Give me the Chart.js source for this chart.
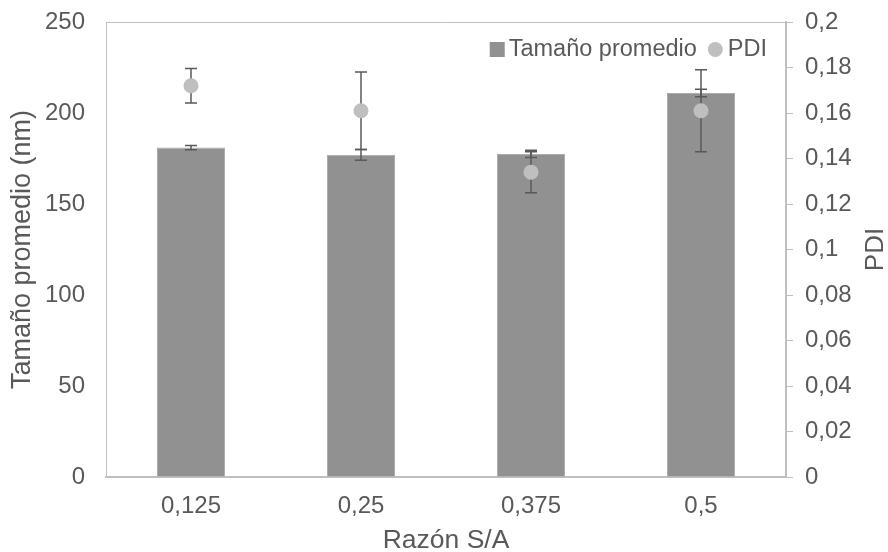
<!DOCTYPE html>
<html lang="es">
<head>
  <meta charset="UTF-8" />
  <title>Tamaño promedio y PDI</title>
  <script src="https://cdn.jsdelivr.net/npm/chart.js@4"></script>
  <style>
    body { margin: 0; background: #fff; }
    #wrap { width: 888px; height: 552px; position: relative; }
  </style>
</head>
<body>
  <div id="wrap"><canvas id="chart"></canvas></div>

  <script>
    const categories = ['0,125', '0,25', '0,375', '0,5'];
    const tamano = [181, 177, 177.5, 211];
    const tamanoErr = [1.2, 3, 2, 2.1];
    const pdi = [0.172, 0.161, 0.134, 0.161];
    const pdiErr = [0.0076, 0.017, 0.009, 0.018];
    const sizeTicks = [0, 50, 100, 150, 200, 250];
    const pdiTicks = [0, 0.02, 0.04, 0.06, 0.08, 0.1, 0.12, 0.14, 0.16, 0.18, 0.2];

    const FONT = '"Liberation Sans", Arial, sans-serif';
    const TEXT = '#595959';
    const LINE = '#bfbfbf';
    Chart.defaults.font.family = FONT;
    Chart.defaults.color = TEXT;

    // fixed axis sizes so the plot box lands where the original one is
    const fixWidth = w => s => {
      s.width = w;
      s.paddingTop = 0;
      s.paddingBottom = 0;
    };

    // error bars go over the bars but under the PDI dots
    const errorBars = {
      id: 'errorBars',
      afterDatasetDraw(chart, args) {
        if (args.index !== 0) return;
        const { ctx, scales } = chart;
        const cap = 6;
        ctx.save();
        ctx.strokeStyle = TEXT;
        ctx.lineWidth = 1.5;
        const draw = (vals, errs, scale) => vals.forEach((v, i) => {
          const x = scales.x.getPixelForValue(i);
          const top = scale.getPixelForValue(v + errs[i]);
          const bot = scale.getPixelForValue(v - errs[i]);
          ctx.beginPath();
          ctx.moveTo(x, top); ctx.lineTo(x, bot);
          ctx.moveTo(x - cap, top); ctx.lineTo(x + cap, top);
          ctx.moveTo(x - cap, bot); ctx.lineTo(x + cap, bot);
          ctx.stroke();
        });
        draw(pdi, pdiErr, scales.y1);
        draw(tamano, tamanoErr, scales.y);
        ctx.restore();
      }
    };

    // legend inside the plot, top right, plus the right axis title read bottom-up
    const extras = {
      id: 'extras',
      afterDraw(chart) {
        const { ctx, chartArea } = chart;
        const ds = chart.data.datasets;
        ctx.save();
        ctx.font = '23.5px ' + FONT;
        ctx.textBaseline = 'middle';
        const y = chartArea.top + 27.5;
        let x = chartArea.right - 19;
        [...ds].reverse().forEach(d => {
          const w = ctx.measureText(d.label).width;
          x -= w;
          ctx.fillStyle = TEXT;
          ctx.fillText(d.label, x, y);
          ctx.fillStyle = d.type === 'line' ? d.pointBackgroundColor : d.backgroundColor;
          if (d.type === 'line') {
            x -= 5;
            ctx.beginPath();
            ctx.arc(x - 7.5, y, 7.5, 0, Math.PI * 2);
            ctx.fill();
            x -= 15 + 11;
          } else {
            x -= 4;
            ctx.fillRect(x - 15, y - 7.5, 15, 15);
            x -= 15;
          }
        });

        ctx.translate(chartArea.right + 90, (chartArea.top + chartArea.bottom) / 2);
        ctx.rotate(-Math.PI / 2);
        ctx.font = '26px ' + FONT;
        ctx.textAlign = 'center';
        ctx.fillStyle = TEXT;
        ctx.fillText('PDI', 0, 0);
        ctx.restore();
      }
    };

    new Chart(document.getElementById('chart'), {
      data: {
        labels: categories,
        datasets: [
          {
            type: 'bar',
            label: 'Tamaño promedio',
            data: tamano,
            yAxisID: 'y',
            order: 1,
            backgroundColor: '#919191',
            borderColor: '#adadad',
            borderWidth: 1,
            categoryPercentage: 1,
            barPercentage: 0.4
          },
          {
            type: 'line',
            label: 'PDI',
            data: pdi,
            yAxisID: 'y1',
            order: 0,
            showLine: false,
            pointRadius: 7.5,
            pointHoverRadius: 7.5,
            pointBorderWidth: 0,
            pointBackgroundColor: '#bfbfbf',
            borderColor: '#bfbfbf'
          }
        ]
      },
      options: {
        responsive: true,
        maintainAspectRatio: false,
        animation: false,
        layout: { padding: { top: 22, left: 0, right: 0, bottom: 0 } },
        plugins: {
          legend: { display: false },
          tooltip: { enabled: false }
        },
        scales: {
          x: {
            offset: true,
            afterFit: s => { s.height = 75; },
            grid: { display: false, drawTicks: false },
            border: { color: LINE, width: 2 },
            ticks: { color: TEXT, font: { size: 24 }, padding: 15 },
            title: {
              display: true, text: 'Razón S/A', color: TEXT,
              font: { size: 26.5, lineHeight: 0.85 }, padding: 0
            }
          },
          y: {
            position: 'left',
            min: 0,
            max: 250,
            afterBuildTicks: s => { s.ticks = sizeTicks.map(v => ({ value: v })); },
            afterFit: fixWidth(106),
            grid: {
              drawTicks: false,
              lineWidth: 1,
              color: c => (c.tick && c.tick.value === 250 ? LINE : 'rgba(0,0,0,0)')
            },
            border: { color: LINE, width: 1 },
            ticks: { color: TEXT, font: { size: 24 }, padding: 21 },
            title: {
              display: true, text: 'Tamaño promedio (nm)', color: TEXT,
              font: { size: 27 }, padding: { top: 6, bottom: 0 }
            }
          },
          y1: {
            position: 'right',
            min: 0,
            max: 0.2,
            afterBuildTicks: s => { s.ticks = pdiTicks.map(v => ({ value: v })); },
            afterFit: fixWidth(102),
            grid: { drawOnChartArea: false, drawTicks: true, tickLength: 7, color: LINE, lineWidth: 1 },
            border: { color: LINE, width: 2 },
            ticks: {
              color: TEXT, font: { size: 24 }, padding: 12,
              callback: v => String(v).replace('.', ',')
            }
          }
        }
      },
      plugins: [errorBars, extras]
    });
  </script>
</body>
</html>
